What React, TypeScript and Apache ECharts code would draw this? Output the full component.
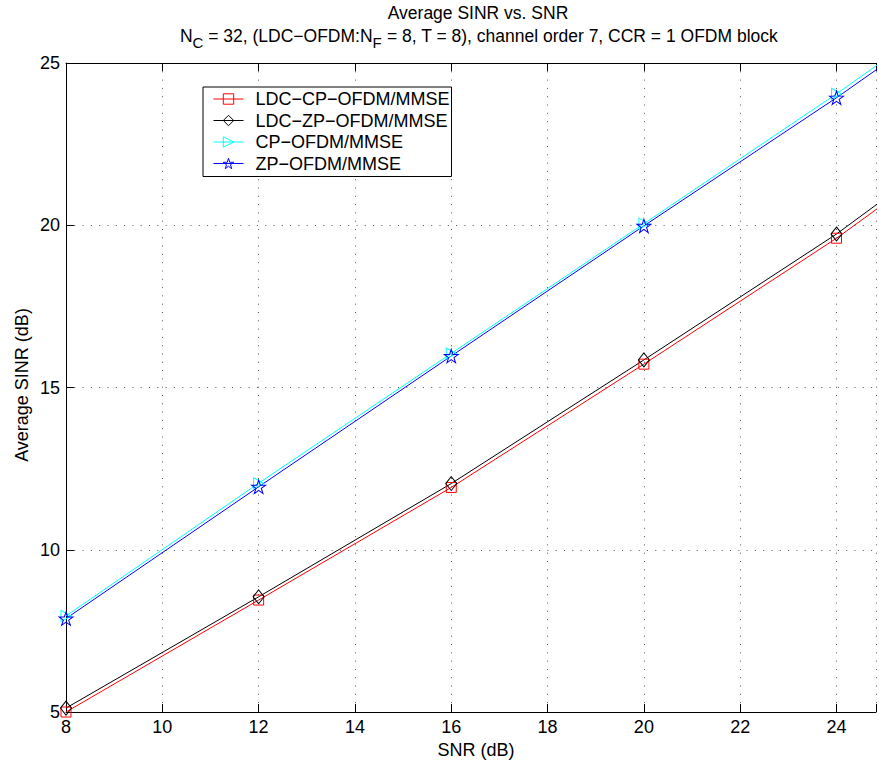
import React, { useEffect, useRef } from 'react';
import * as echarts from 'echarts';

const snr = [8, 12, 16, 20, 24, 28];
const ldcCpOfdm = [5.0, 8.45, 11.92, 15.72, 19.6, 23.9];
const ldcZpOfdm = [5.12, 8.55, 12.04, 15.85, 19.73, 24.1];
const cpOfdm = [7.96, 12.05, 16.05, 20.05, 24.05, 28.25];
const zpOfdm = [7.88, 11.94, 15.97, 19.98, 23.93, 28.1];

const seriesNames = ['LDC\u2212CP\u2212OFDM/MMSE', 'LDC\u2212ZP\u2212OFDM/MMSE', 'CP\u2212OFDM/MMSE', 'ZP\u2212OFDM/MMSE'];
const seriesColors = ['#ff0000', '#000000', '#00ffff', '#0000ff'];

const titleLine1 = 'Average SINR vs. SNR';
const xName = 'SNR (dB)';
const yName = 'Average SINR (dB)';

const STAR = 'path://M100,0 L122.5,69.1 L195.1,69.1 L136.3,111.8 L158.8,180.9 L100,138.2 L41.2,180.9 L63.7,111.8 L4.9,69.1 L77.5,69.1 Z';
const TRI_RIGHT = 'path://M0,0 L10,5 L0,10 Z';

const FONT = 'Liberation Sans, Arial, Helvetica, sans-serif';

export default function App() {
  const ref = useRef<HTMLDivElement>(null);
  useEffect(() => {
    if (!ref.current) return;
    const chart = echarts.init(ref.current, undefined, { renderer: 'svg' });
    const mk = (vals: number[]) => snr.map((x, i) => [x, vals[i]]);
    const symbols: any[] = [
      { symbol: 'rect', size: [10, 10] },
      { symbol: 'diamond', size: [11, 14] },
      { symbol: TRI_RIGHT, size: [10, 11] },
      { symbol: STAR, size: [14, 13.5] },
    ];
    const datas = [ldcCpOfdm, ldcZpOfdm, cpOfdm, zpOfdm];
    const series = datas.map((d, i) => ({
      type: 'line',
      name: seriesNames[i],
      data: mk(d),
      xAxisIndex: 0,
      yAxisIndex: 0,
      clip: false,
      symbol: symbols[i].symbol,
      symbolSize: symbols[i].size,
      showSymbol: true,
      lineStyle: { color: seriesColors[i], width: 1 },
      itemStyle: { color: 'rgba(0,0,0,0)', borderColor: seriesColors[i], borderWidth: 1 },
      emphasis: { disabled: true },
    }));
    const dotted = { show: true, lineStyle: { color: '#555', width: 1, type: [1, 7.3] } };
    const option: any = {
      animation: false,
      backgroundColor: '#ffffff',
      textStyle: { fontFamily: FONT },
      grid: { left: 66, top: 63, right: 0, bottom: 51, containLabel: false },
      xAxis: [
        {
          type: 'value',
          min: 8,
          max: 24.82,
          interval: 2,
          position: 'bottom',
          axisLine: { show: true, onZero: false, lineStyle: { color: '#000', width: 1 } },
          axisTick: { show: true, inside: true, length: 8, lineStyle: { color: '#000' } },
          axisLabel: {
            show: true,
            margin: 6,
            color: '#000',
            fontSize: 18,
            fontFamily: FONT,
            formatter: (v: number) => (Math.abs(v % 2) < 1e-9 ? String(v) : ''),
          },
          splitLine: dotted,
        },
        {
          type: 'value',
          min: 8,
          max: 24.82,
          interval: 2,
          position: 'top',
          axisLine: { show: true, onZero: false, lineStyle: { color: '#000', width: 1 } },
          axisTick: { show: true, inside: true, length: 8, lineStyle: { color: '#000' } },
          axisLabel: { show: false },
          splitLine: { show: false },
        },
      ],
      yAxis: {
        type: 'value',
        min: 5,
        max: 25,
        interval: 5,
        axisLine: { show: true, onZero: false, lineStyle: { color: '#000', width: 1 } },
        axisTick: { show: true, inside: true, length: 8, lineStyle: { color: '#000' } },
        axisLabel: { show: true, margin: 6, color: '#000', fontSize: 18, fontFamily: FONT },
        splitLine: dotted,
      },
      legend: {
        show: true,
        orient: 'vertical',
        left: 203,
        top: 87,
        padding: [3, 2, 4, 10],
        itemWidth: 30,
        itemHeight: 13,
        itemGap: 3.5,
        backgroundColor: '#fff',
        borderColor: '#000',
        borderWidth: 1,
        borderRadius: 0,
        selectedMode: false,
        data: seriesNames,
        itemStyle: { color: 'rgba(0,0,0,0)', borderColor: 'inherit', borderWidth: 1 },
        lineStyle: { width: 1 },
        textStyle: { color: '#000', fontSize: 18, fontFamily: FONT, lineHeight: 18, padding: [0, 0, 0, 7] },
      },
      graphic: [
        {
          type: 'text',
          x: 478,
          y: 13,
          style: { text: titleLine1, font: `17.5px ${FONT}`, fill: '#000', align: 'center', verticalAlign: 'middle' },
        },
        {
          type: 'text',
          x: 479,
          y: 36,
          style: {
            text: '{n|N}{s|C}{n| = 32, (LDC\u2212OFDM:N}{s|F}{n| = 8, T = 8), channel order 7, CCR = 1 OFDM block}',
            fill: '#000',
            align: 'center',
            verticalAlign: 'middle',
            rich: {
              n: { fontSize: 17.5, fontFamily: FONT, fill: '#000' },
              s: { fontSize: 15, fontFamily: FONT, fill: '#000', padding: [12, 0, 0, 0] },
            },
          },
        },
        {
          type: 'text',
          x: 476,
          y: 750,
          style: { text: xName, font: `18px ${FONT}`, fill: '#000', align: 'center', verticalAlign: 'middle' },
        },
        {
          type: 'text',
          x: 22,
          y: 385,
          rotation: Math.PI / 2,
          style: { text: yName, font: `18px ${FONT}`, fill: '#000', align: 'center', verticalAlign: 'middle' },
        },
      ],
      series,
    };
    chart.setOption(option);
    return () => chart.dispose();
  }, []);
  return <div ref={ref} style={{ position: 'fixed', left: 0, top: 0, width: 879, height: 763, background: '#fff' }} />;
}
